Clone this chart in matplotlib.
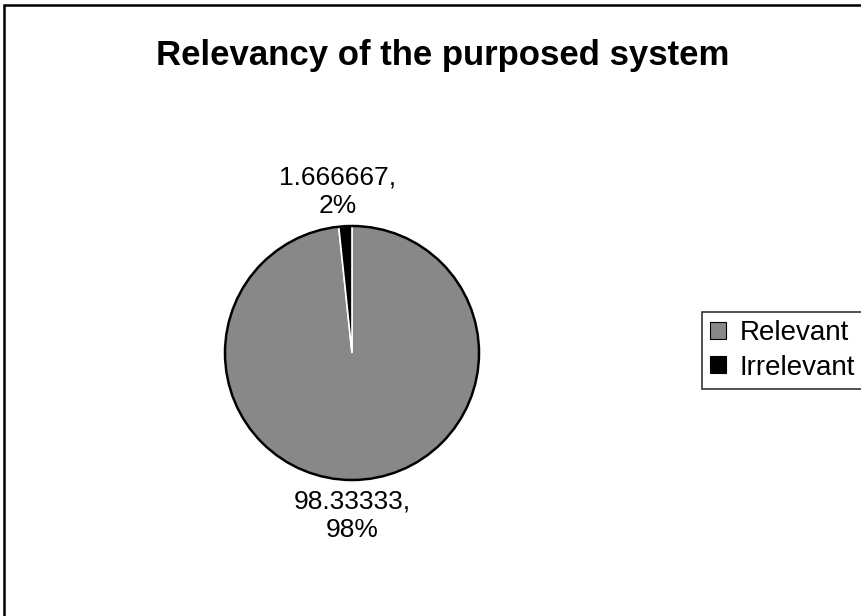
import numpy as np
import matplotlib.pyplot as plt
from matplotlib.patches import Rectangle, Circle, Patch

plt.rcParams['font.family'] = ['Liberation Sans', 'DejaVu Sans']

# Data
categories = ['Relevant', 'Irrelevant']
values = [98.33333, 1.666667]
value_text = ['98.33333', '1.666667']
pct_text = ['98%', '2%']
colors = ['#888888', '#000000']

W, H = 862, 616
fig = plt.figure(figsize=(W / 100, H / 100), dpi=100)
ax = fig.add_axes([0, 0, 1, 1])

# pie in pixel coordinates (y flipped by hand)
cx, cy, r = 352, H - 353, 127
wedges, _ = ax.pie(values, colors=colors, startangle=90, counterclock=False,
                   center=(cx, cy), radius=r,
                   wedgeprops=dict(edgecolor='white', linewidth=1.2))
ax.add_patch(Circle((cx, cy), r, fill=False, edgecolor='black', linewidth=1.8))
ax.set_xlim(0, W)
ax.set_ylim(0, H)
ax.set_aspect('equal')
ax.axis('off')

# data labels
ax.text(cx - 14, H - 192, value_text[1] + ',\n' + pct_text[1], ha='center', va='center',
        fontsize=19, linespacing=1.25)
ax.text(cx, H - 516, value_text[0] + ',\n' + pct_text[0], ha='center', va='center',
        fontsize=19, linespacing=1.25)

# title
fig.text(443 / W, 1 - 56 / H, 'Relevancy of the purposed system', ha='center', va='center',
         fontsize=25, fontweight='bold')

# legend
handles = [Patch(facecolor=c, edgecolor='black', linewidth=0.8) for c in colors]
leg = fig.legend(handles, categories, loc='upper left', bbox_to_anchor=(702 / W, 1 - 312 / H),
                 frameon=True, fancybox=False, fontsize=20, handlelength=0.55,
                 handleheight=0.55, handletextpad=0.5, borderpad=0.3, labelspacing=0.3,
                 borderaxespad=0)
leg.get_frame().set_edgecolor('black')
leg.get_frame().set_linewidth(1.2)

# chart border (right and bottom edges fall outside the scan)
fig.patches.append(Rectangle((4 / W, -0.1), 1.2, 1 - 5 / H + 0.1, transform=fig.transFigure,
                             fill=False, edgecolor='black', linewidth=1.8))

fig.savefig('out.png', dpi=100)
